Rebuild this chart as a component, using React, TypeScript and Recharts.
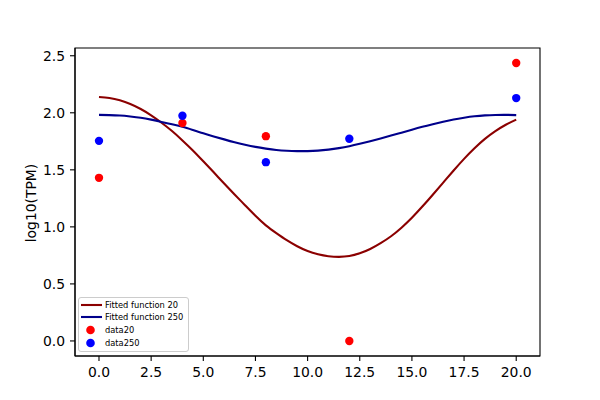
import React from 'react'
import { ComposedChart, Label, Legend, Line, ReferenceArea, Scatter, XAxis, YAxis, ZAxis } from 'recharts'

// sampled positions along the fitted curves
const curveX = [
  0, 0.5, 1, 1.5, 2, 2.5, 3, 3.5, 4, 4.5, 5, 5.5, 6, 6.5, 7, 7.5, 8, 8.5, 9, 9.5, 10,
  10.5, 11, 11.5, 12, 12.5, 13, 13.5, 14, 14.5, 15, 15.5, 16, 16.5, 17, 17.5, 18, 18.5, 19, 19.5, 20,
]
const fit20 = [
  2.138, 2.129, 2.109, 2.077, 2.033, 1.978, 1.913, 1.840, 1.758, 1.670, 1.575, 1.478, 1.380, 1.284, 1.190, 1.097, 1.013, 0.945, 0.883, 0.830, 0.788,
  0.760, 0.743, 0.737, 0.744, 0.768, 0.806, 0.857, 0.918, 0.993, 1.080, 1.178, 1.282, 1.388, 1.494, 1.596, 1.689, 1.771, 1.839, 1.895, 1.940,
]
const fit250 = [
  1.982, 1.980, 1.976, 1.968, 1.957, 1.940, 1.920, 1.899, 1.877, 1.849, 1.820, 1.793, 1.767, 1.742, 1.720, 1.701, 1.686, 1.674, 1.667, 1.664, 1.664,
  1.668, 1.677, 1.690, 1.707, 1.728, 1.751, 1.775, 1.800, 1.826, 1.852, 1.877, 1.900, 1.922, 1.942, 1.957, 1.969, 1.977, 1.981, 1.982, 1.980,
]

// measured samples
const sampleX = [0, 4, 8, 12, 20]
const data20 = [1.43, 1.91, 1.795, 0.0, 2.436]
const data250 = [1.754, 1.974, 1.567, 1.772, 2.129]

const xTicks = [0, 2.5, 5, 7.5, 10, 12.5, 15, 17.5, 20]
const yTicks = [0, 0.5, 1, 1.5, 2, 2.5]
const xDomain = [-1.15, 21.14]
const yDomain = [-0.132, 2.568]
const legendOrder = ['Fitted function 20', 'Fitted function 250', 'data20', 'data250']

const curveData = curveX.map((x, i) => ({ x, fit20: fit20[i], fit250: fit250[i] }))
const points20 = sampleX.map((x, i) => ({ x, y: data20[i] }))
const points250 = sampleX.map((x, i) => ({ x, y: data250[i] }))

const FONT = 'DejaVu Sans, sans-serif'
const tickStyle = { fill: '#000', fontSize: 13.9, fontFamily: FONT }

const LegendBox = ({ payload }: any) => {
  const items = [...(payload ?? [])].sort(
    (a: any, b: any) => legendOrder.indexOf(a.value) - legendOrder.indexOf(b.value)
  )
  return (
    <div
      style={{
        background: 'rgba(255,255,255,0.8)',
        border: '1px solid #cccccc',
        borderRadius: 3,
        padding: '0.3px 4px 1.5px 2px',
        fontFamily: FONT,
        fontSize: 8.3,
        color: '#000',
        boxSizing: 'border-box',
        width: 111,
      }}
    >
      {items.map((it: any) => (
        <div key={it.value} style={{ display: 'flex', alignItems: 'center', height: 12.8 }}>
          <svg width={21} height={10} style={{ flex: 'none' }}>
            {it.type === 'line' ? (
              <line x1={0} x2={21} y1={5} y2={5} stroke={it.color} strokeWidth={2.1} />
            ) : (
              <circle cx={9.5} cy={5} r={4.3} fill={it.color} />
            )}
          </svg>
          <span style={{ marginLeft: 3, whiteSpace: 'nowrap' }}>{it.value}</span>
        </div>
      ))}
    </div>
  )
}

const YTitle = () => (
  <text
    x={30.5}
    y={203}
    transform="rotate(-90 30.5 203)"
    textAnchor="middle"
    dominantBaseline="central"
    fill="#000"
    fontSize={13.9}
    fontFamily={FONT}
  >
    log10(TPM)
  </text>
)

export default function App() {
  return (
    <>
      <style>{'body { margin: 0; }'}</style>
      <ComposedChart width={600} height={400} margin={{ top: 48, right: 60, bottom: 14, left: 0 }}>
        <XAxis
          dataKey="x"
          type="number"
          domain={xDomain}
          ticks={xTicks}
          tickFormatter={(v: number) => v.toFixed(1)}
          allowDataOverflow
          height={30}
          stroke="#000"
          strokeWidth={1.1}
          tickSize={5}
          tickMargin={6}
          tick={tickStyle}
        />
        <YAxis
          type="number"
          domain={yDomain}
          ticks={yTicks}
          tickFormatter={(v: number) => v.toFixed(1)}
          allowDataOverflow
          width={75}
          stroke="#000"
          strokeWidth={1.1}
          tickSize={5}
          tickMargin={5}
          tick={tickStyle}
        >
          <Label content={<YTitle />} />
        </YAxis>
        <ZAxis type="number" range={[55, 55]} />
        {/* plot frame (all four spines) */}
        <ReferenceArea
          x1={xDomain[0]}
          x2={xDomain[1]}
          y1={yDomain[0]}
          y2={yDomain[1]}
          fill="none"
          stroke="#000"
          strokeWidth={1.1}
          ifOverflow="visible"
        />
        <Line
          data={curveData}
          dataKey="fit20"
          name="Fitted function 20"
          type="natural"
          stroke="#8b0000"
          strokeWidth={2.1}
          dot={false}
          activeDot={false}
          isAnimationActive={false}
        />
        <Line
          data={curveData}
          dataKey="fit250"
          name="Fitted function 250"
          type="natural"
          stroke="#00008b"
          strokeWidth={2.1}
          dot={false}
          activeDot={false}
          isAnimationActive={false}
        />
        <Scatter data={points20} dataKey="y" name="data20" fill="#ff0000" isAnimationActive={false} />
        <Scatter data={points250} dataKey="y" name="data250" fill="#0000ff" isAnimationActive={false} />
        <Legend
          layout="vertical"
          align="center"
          verticalAlign="middle"
          content={<LegendBox />}
          wrapperStyle={{ left: 78, top: 297, width: 111, height: 'auto' }}
        />
      </ComposedChart>
    </>
  )
}
